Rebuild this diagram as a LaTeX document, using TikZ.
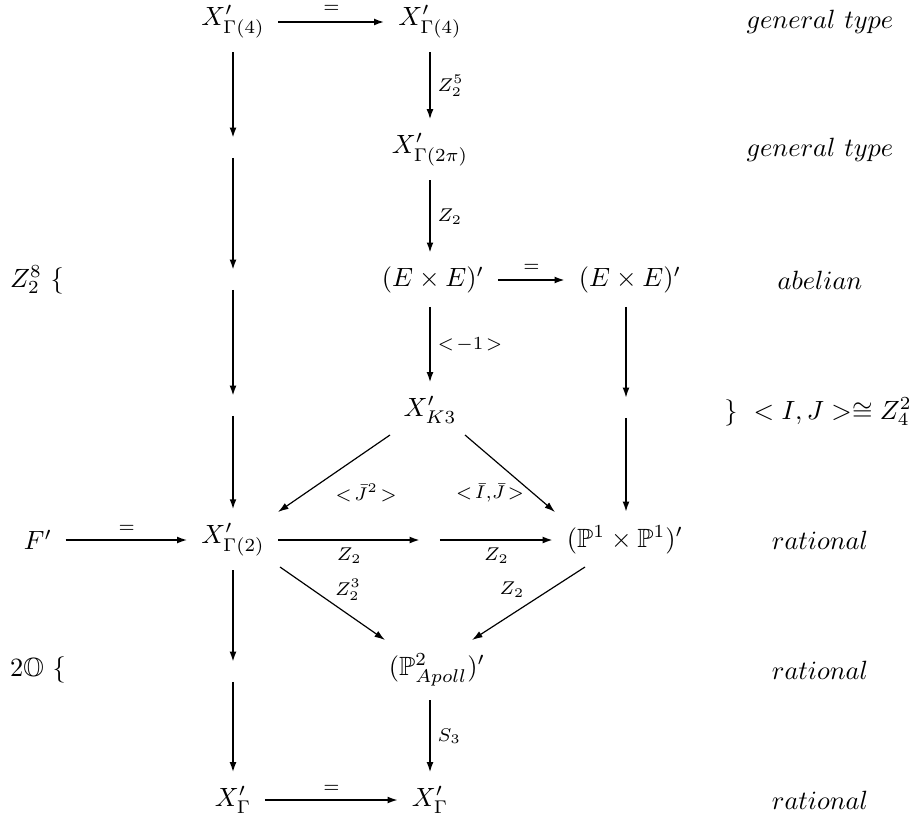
\documentclass[tikz,border=0pt]{standalone}
\usepackage{amssymb}
\usetikzlibrary{arrows.meta, calc}

\begin{document}
\begin{tikzpicture}[x=0.379pt, y=-0.379pt,
    obj/.style={inner sep=5pt},
    emp/.style={inner sep=0pt, minimum size=7pt},
    lab/.style={font=\scriptsize, inner sep=2.5pt},
    side/.style={inner sep=0pt},
    arr/.style={-{Latex[length=4pt, width=2.6pt]}, line width=0.75pt},
    thk/.style={arr, line width=1.1pt},
    dg/.style={arr, line width=0.45pt},
]
\useasboundingbox (0,0) rectangle (917,822);
% objects
\node[obj] (g4l) at (233,22) {$X'_{\Gamma(4)}$};
\node[obj] (g4r) at (430,22) {$X'_{\Gamma(4)}$};
\node[obj] (g2pi) at (430,150) {$X'_{\Gamma(2\pi)}$};
\node[obj] (exe) at (433,280) {$(E\times E)'$};
\node[obj] (exe2) at (630,280) {$(E\times E)'$};
\node[obj] (k3) at (430,410) {$X'_{K3}$};
\node[obj] (fp) at (38,540) {$F'$};
\node[obj] (g2) at (233,540) {$X'_{\Gamma(2)}$};
\node[obj] (p1p1) at (625,540) {$(\mathbb{P}^1\times\mathbb{P}^1)'$};
\node[obj] (apoll) at (437,670) {$(\mathbb{P}^2_{Apoll})'$};
\node[obj] (gl) at (233,800) {$X'_\Gamma$};
\node[obj] (gr) at (430,800) {$X'_\Gamma$};
% empty cells
\node[emp] (e2) at (233,148) {};
\node[emp] (e3) at (233,280) {};
\node[emp] (e4) at (233,406) {};
\node[emp] (e7) at (233,672) {};
\node[emp] (em) at (430,540) {};
\node[emp] (c4) at (626,408) {};
% side texts
\node[side] (t1) at (820,22) {$general\ type$};
\node[side] (t2) at (820,150) {$general\ type$};
\node[side] (t3) at (820,280) {$abelian$};
\node[side] (t4) at (818,412) {$\}\ <I,J>\cong Z_4^2$};
\node[side] (t5) at (820,540) {$rational$};
\node[side] (t6) at (820,670) {$rational$};
\node[side] (t7) at (820,800) {$rational$};
\node[side] (s1) at (37,280) {$Z_2^8\ \{$};
\node[side] (s2) at (38,670) {$2\mathbb{O}\ \{$};

% left column
\draw[thk] (g4l) -- (e2);
\draw[thk] (e2) -- (e3);
\draw[thk] (e3) -- (e4);
\draw[thk] (e4) -- (g2);
\draw[thk] (g2) -- (e7);
\draw[thk] (e7) -- (gl);
% middle column
\draw[arr] (g4r) -- node[lab, right] {$Z_2^5$} (g2pi);
\draw[arr] (g2pi) -- node[lab, right] {$Z_2$} (exe.north -| g2pi);
\draw[arr] (exe.south -| k3) -- node[lab, right] {$<\!-1\!>$} (k3);
\draw[arr] (apoll.south -| gr) -- node[lab, right] {$S_3$} (gr);
% right column
\draw[arr] (exe2.south -| c4) -- (c4);
\draw[arr] (c4) -- (p1p1.north -| c4);
% horizontal
\draw[thk] (g4l) -- node[lab, above=0.5pt] {$=$} (g4r);
\draw[thk] (exe) -- node[lab, above] {$=$} (exe2);
\draw[arr] (fp) -- node[lab, above] {$=$} (g2);
\draw[thk] (g2) -- node[lab, below] {$Z_2$} (em);
\draw[thk] (em) -- node[lab, below] {$Z_2$} (p1p1);
\draw[arr] (gl) -- node[lab, above] {$=$} (gr);
% diagonals
\draw[dg] ($(k3)+(-40,25)$) -- ($(g2)+(45,-28)$);
\draw[dg] ($(k3)+(35,25)$) -- ($(p1p1)+(-70,-28)$);
\draw[dg] ($(g2)+(47,27)$) -- ($(apoll)+(-52,-30)$);
\draw[dg] ($(p1p1)+(-40,27)$) -- ($(apoll)+(35,-30)$);
\node[lab] (lj) at (366,493) {$<\!\bar J^2\!>$};
\node[lab] (lij) at (490,493) {$<\!\bar I,\!\bar J\!>$};
\node[lab] (lz3) at (348,590) {$Z_2^3$};
\node[lab] (lz2) at (512,590) {$Z_2$};
\end{tikzpicture}
\end{document}
